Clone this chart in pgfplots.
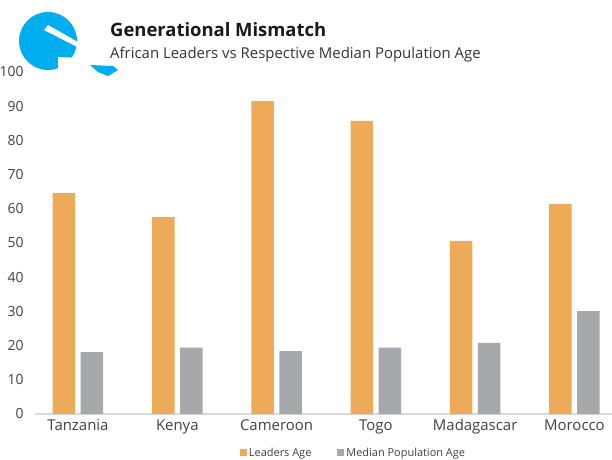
\documentclass[border=0pt]{standalone}
\usepackage{pgfplots}
\pgfplotsset{compat=1.18}
\usepackage{fontspec}
\setmainfont{Open Sans}
\definecolor{barorange}{RGB}{237,171,90}
\definecolor{bargray}{RGB}{167,168,172}
\definecolor{logoblue}{RGB}{0,174,239}
\definecolor{ticktext}{RGB}{64,64,64}
\definecolor{axisgray}{RGB}{217,217,217}
\begin{document}
\begin{tikzpicture}
\useasboundingbox (0,0) rectangle (612bp,-460bp);
% logo
\begin{scope}[x=1bp,y=-1bp]
\fill[logoblue] (48,41) circle [radius=29];
\fill[white] (44,30) -- (48,25) -- (85,46) -- (85,51) -- cycle;
\fill[white] (58,57) -- (85,58) -- (85,75) -- (58,75) -- cycle;
\fill[logoblue] (90,65) -- (113,66) -- (118,70) -- (108,76) -- (98,72) -- cycle;
\node[anchor=base west, inner sep=0, text=black!90, font=\fontsize{18.5}{22}\selectfont\bfseries] at (110,36.5) {Generational Mismatch};
\node[anchor=base west, inner sep=0, text=black!80, font=\fontsize{15}{18}\selectfont] at (110,58) {African Leaders vs Respective Median Population Age};
\end{scope}
\begin{axis}[
  at={(35bp,-414bp)}, anchor=south west,
  scale only axis, width=577bp, height=342bp,
  ybar=5.5bp, bar width=22.5bp,
  xmin=-0.433, xmax=5.378, ymin=0, ymax=100,
  xtick={0,1,2,3,4,5},
  xticklabels={Tanzania,Kenya,Cameroon,Togo,Madagascar,Morocco},
  ytick={0,10,...,100},
  axis x line*=bottom, axis y line*=left,
  x axis line style={draw=axisgray, line width=1.2bp, -},
  y axis line style={draw=none},
  major tick length=0pt,
  tick label style={text=ticktext},
  yticklabel style={xshift=-8bp, font=\fontsize{14}{16}\selectfont},
  xticklabel style={yshift=-2bp, font=\fontsize{15}{17}\selectfont},
  /pgf/number format/assume math mode=true,
  legend columns=2,
  legend style={at={(0.552,-0.114)}, anchor=center, draw=none, fill=none,
    font=\fontsize{11}{13}\selectfont, text=ticktext,
    /tikz/every even column/.append style={column sep=24bp}},
  legend image code/.code={\fill[#1] (0bp,-3.5bp) rectangle (7bp,3.5bp);},
]
\addplot[fill=barorange, draw=none] coordinates {(0,64.6) (1,57.6) (2,91.5) (3,85.7) (4,50.6) (5,61.4)};
\addplot[fill=bargray, draw=none] coordinates {(0,18.1) (1,19.4) (2,18.4) (3,19.4) (4,20.8) (5,30.1)};
\legend{Leaders Age, Median Population Age}
\end{axis}
\end{tikzpicture}
\end{document}
